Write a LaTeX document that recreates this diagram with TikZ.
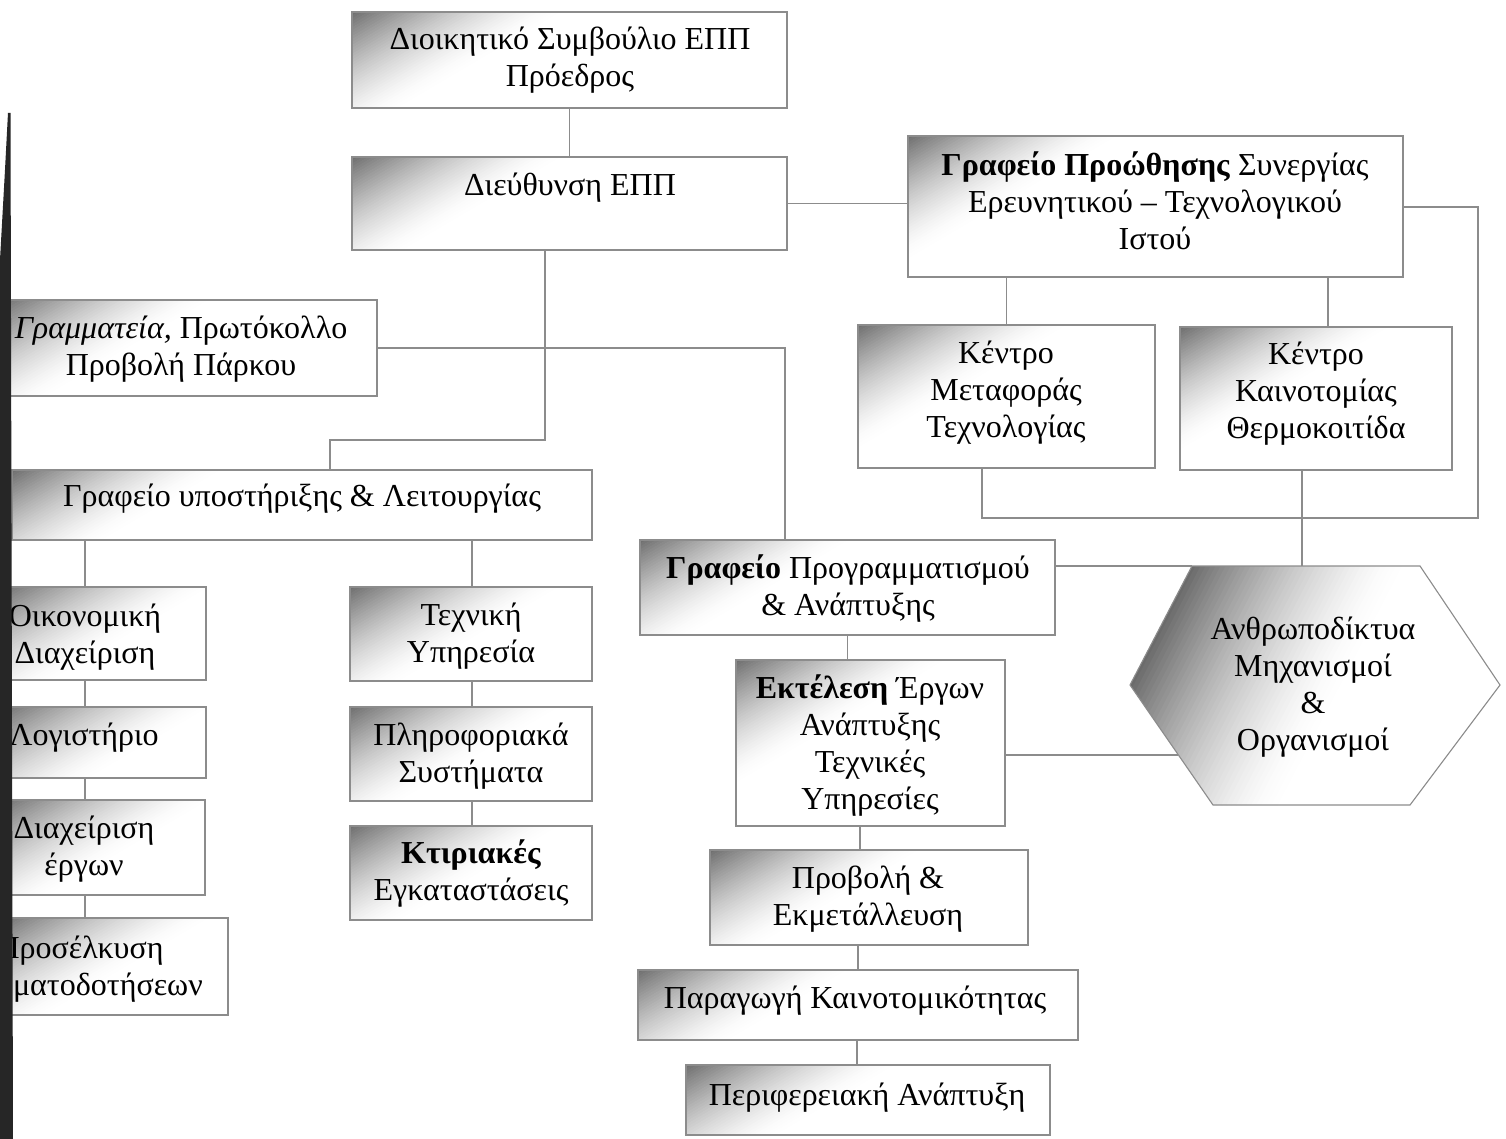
\documentclass[tikz,border=0pt]{standalone}
\usepackage{fontspec}
\setmainfont{Liberation Serif}
\usetikzlibrary{fit,calc}
\newcommand\scanstrips[2]{%
  \foreach \t in {0,5,...,205}{%
    \pgfmathsetmacro\pc{58*(1-\t/210)^1.5}%
    \fill[black!\pc] ($(#1)+(\t-0.5,-2)$) -- ++(6,0) -- ++({-#2*400},400) -- ++(-6,0) -- cycle;
  }}
\tikzset{
  orgbox/.style={draw=black!45, line width=0.55pt, inner sep=0pt, outer sep=0pt,
    path picture={\scanstrips{path picture bounding box.north west}{1.7}}},
  lbl/.style={align=center, inner sep=0pt, font=\fontsize{16}{18.5}\selectfont},
  link/.style={draw=black!45, line width=0.55pt},
}
\begin{document}
\begin{tikzpicture}[x=0.5pt,y=-0.5pt]
\useasboundingbox (0,0) rectangle (1506,1139);
\fill[white] (0,0) rectangle (1506,1139);
\clip (0,0) rectangle (1506,1139);

% boxes
\node[orgbox, fit={(352,12) (787,108)}] (board) {};
\node[orgbox, fit={(352,157) (787,250)}] (dir) {};
\node[orgbox, fit={(908,136) (1403,277)}] (gp) {};
\node[orgbox, fit={(0,300) (377,396)}] (gram) {};
\node[orgbox, fit={(12,470) (592,540)}] (sup) {};
\node[orgbox, fit={(0,587) (206,680)}] (oik) {};
\node[orgbox, fit={(0,707) (206,778)}] (log) {};
\node[orgbox, fit={(0,800) (205,895)}] (diax) {};
\node[orgbox, fit={(0,918) (228,1015)}] (pros) {};
\node[orgbox, fit={(350,587) (592,681)}] (tech) {};
\node[orgbox, fit={(350,707) (592,801)}] (plir) {};
\node[orgbox, fit={(350,826) (592,920)}] (ktir) {};
\node[orgbox, fit={(858,325) (1155,468)}] (k1) {};
\node[orgbox, fit={(1180,327) (1452,470)}] (k2) {};
\node[orgbox, fit={(640,540) (1055,635)}] (prog) {};
\node[orgbox, fit={(736,660) (1005,826)}] (exec) {};
\node[orgbox, fit={(710,850) (1028,945)}] (prob) {};
\node[orgbox, fit={(638,970) (1078,1040)}] (para) {};
\node[orgbox, fit={(686,1065) (1050,1135)}] (peri) {};

% hexagon
\coordinate (hexNW) at (1192,566);
\coordinate (hexNE) at (1420,566);
\coordinate (hexE) at (1500,685);
\coordinate (hexSE) at (1410,805);
\coordinate (hexSW) at (1213,805);
\coordinate (hexW) at (1130,685);
\coordinate (hexT) at (1302,566);
\coordinate (hexL) at (1178,755);
\path[draw=black!45, line width=0.55pt, path picture={\scanstrips{hexNW}{0.52}}]
  (hexNW) -- (hexNE) -- (hexE) -- (hexSE) -- (hexSW) -- (hexW) -- cycle;

% texts
\node[lbl] (t-board) at (570,60) {Διοικητικό Συμβούλιο ΕΠΠ\\Πρόεδρος};
\node[lbl] (t-dir) at (570,188) {Διεύθυνση ΕΠΠ};
\node[lbl] (t-gp) at (1155,201) {\textbf{Γραφείο Προώθησης} Συνεργίας\\Ερευνητικού – Τεχνολογικού\\Ιστού};
\node[lbl] (t-gram) at (181,349) {\textit{Γραμματεία,} Πρωτόκολλο\\Προβολή Πάρκου};
\node[lbl] (t-sup) at (302,499) {Γραφείο υποστήριξης \& Λειτουργίας};
\node[lbl] (t-oik) at (85,637) {Οικονομική\\Διαχείριση};
\node[lbl] (t-log) at (84,738) {Λογιστήριο};
\node[lbl] (t-diax) at (84,849) {Διαχείριση\\έργων};
\node[lbl] (t-pros) at (80,969) {Προσέλκυση\\Χρηματοδοτήσεων};
\node[lbl] (t-tech) at (471,636) {Τεχνική\\Υπηρεσία};
\node[lbl] (t-plir) at (471,756) {Πληροφοριακά\\Συστήματα};
\node[lbl] (t-ktir) at (471,874) {\textbf{Κτιριακές}\\Εγκαταστάσεις};
\node[lbl] (t-k1) at (1006,393) {Κέντρο\\Μεταφοράς\\Τεχνολογίας};
\node[lbl] (t-k2) at (1316,394) {Κέντρο\\Καινοτομίας\\Θερμοκοιτίδα};
\node[lbl] (t-prog) at (848,589) {\textbf{Γραφείο} Προγραμματισμού\\\& Ανάπτυξης};
\node[lbl] (t-exec) at (870,746) {\textbf{Εκτέλεση} Έργων\\Ανάπτυξης\\Τεχνικές\\Υπηρεσίες};
\node[lbl] (t-hex) at (1313,687) {Ανθρωποδίκτυα\\Μηχανισμοί\\\&\\Οργανισμοί};
\node[lbl] (t-prob) at (868,899) {Προβολή \&\\Εκμετάλλευση};
\node[lbl] (t-para) at (855,1001) {Παραγωγή Καινοτομικότητας};
\node[lbl] (t-peri) at (867,1098) {Περιφερειακή Ανάπτυξη};

% connectors
\coordinate (j1) at (545,440);
\coordinate (j2) at (330,440);
\coordinate (j3) at (785,348);
\coordinate (j4) at (1328,300);
\coordinate (j5) at (1478,518);
\coordinate (j6) at (982,518);
\coordinate (j7) at (1478,207);
\coordinate (xA) at (860,838);
\coordinate (xB) at (858,958);
\coordinate (xC) at (857,1052);
\coordinate (xL) at (85,560);
\coordinate (xT) at (472,560);

\draw[link] (board.south) -- (dir.north);
\draw[link] (dir.east) -- (dir.east -| gp.west);
\draw[link] (dir.south -| j1) -- (j1) -- (j2) -- (sup.north -| j2);
\draw[link] (gram.east |- j3) -- (j3) -- (prog.north -| j3);
\draw[link] (gp.south -| k1.north) -- (k1.north);
\draw[link] (gp.south -| j4) -- (k2.north -| j4);
\draw[link] (gp.east |- j7) -- (j7) -- (j5) -- (j6) -- (k1.south -| j6);
\draw[link] (k2.south -| hexT) -- (hexT);
\draw[link] (prog.east |- hexNW) -- (hexNW);
\draw[link] (prog.south) -- (prog.south |- exec.north);
\draw[link] (exec.east |- hexL) -- (hexL);
\draw[link] (exec.south -| xA) -- (prob.north -| xA);
\draw[link] (prob.south -| xB) -- (para.north -| xB);
\draw[link] (para.south -| xC) -- (peri.north -| xC);
\draw[link] (sup.south -| xL) -- (oik.north -| xL);
\draw[link] (oik.south -| xL) -- (log.north -| xL);
\draw[link] (log.south -| xL) -- (diax.north -| xL);
\draw[link] (diax.south -| xL) -- (pros.north -| xL);
\draw[link] (sup.south -| xT) -- (tech.north -| xT);
\draw[link] (tech.south -| xT) -- (plir.north -| xT);
\draw[link] (plir.south -| xT) -- (ktir.north -| xT);

% scanner edge
\fill[black!85] (8,113) -- (10.5,113) -- (13,1139) -- (0,1139) -- (0,260) -- (5,170) -- cycle;
\end{tikzpicture}
\end{document}
